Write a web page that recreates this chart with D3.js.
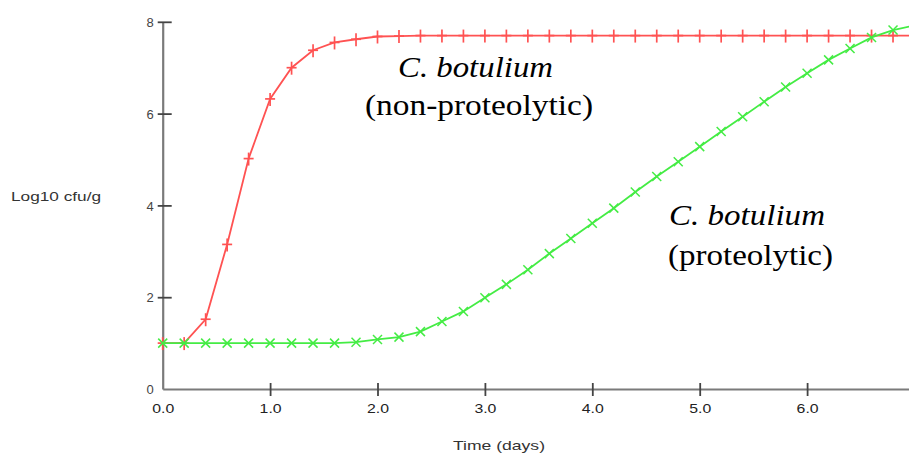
<!DOCTYPE html>
<html>
<head>
<meta charset="utf-8">
<script src="https://cdn.jsdelivr.net/npm/d3@7"></script>
<style>
  html, body { margin: 0; padding: 0; background: #fff; }
  svg { display: block; }
</style>
</head>
<body>
<svg id="chart" width="909" height="454"></svg>
<script>
// ---- data ----
const days = [0.0, 0.2, 0.4, 0.6, 0.8, 1.0, 1.2, 1.4, 1.6, 1.8, 2.0, 2.2, 2.4, 2.6, 2.8, 3.0, 3.2, 3.4,
              3.6, 3.8, 4.0, 4.2, 4.4, 4.6, 4.8, 5.0, 5.2, 5.4, 5.6, 5.8, 6.0, 6.2, 6.4, 6.6, 6.8, 7.0];
const nonProteolytic = [1.0, 1.0, 1.52, 3.15, 5.02, 6.32, 7.0, 7.38, 7.55, 7.62, 7.68, 7.69, 7.7, 7.7, 7.7, 7.7, 7.7, 7.7,
                        7.7, 7.7, 7.7, 7.7, 7.7, 7.7, 7.7, 7.7, 7.7, 7.7, 7.7, 7.7, 7.7, 7.7, 7.7, 7.7, 7.7, 7.7];
const proteolytic = [1.0, 1.0, 1.0, 1.0, 1.0, 1.0, 1.0, 1.0, 1.0, 1.02, 1.08, 1.13, 1.25, 1.47, 1.69, 1.99, 2.28, 2.6,
                     2.95, 3.28, 3.61, 3.94, 4.29, 4.63, 4.95, 5.28, 5.61, 5.93, 6.26, 6.58, 6.88, 7.17, 7.42, 7.66, 7.82, 7.92];
const xTicks = [0, 1, 2, 3, 4, 5, 6];
const yTicks = [0, 2, 4, 6, 8];
const xLabel = "Time (days)";
const yLabel = "Log10 cfu/g";
const labelNonProt = ["C. botulium", "(non-proteolytic)"];
const labelProt = ["C. botulium", "(proteolytic)"];

// ---- layout ----
const svg = d3.select("#chart");
const x0 = 162.7, pxPerDay = 107.4;
const x = d3.scaleLinear().domain([0, 7]).range([x0, x0 + 7 * pxPerDay]);
const y = d3.scaleLinear().domain([0, 8]).range([389, 21.8]);

const axisColor = "#7a7a7a";
const sans = "'Liberation Sans', Arial, sans-serif";
const serif = "'Liberation Serif', 'Times New Roman', serif";

// x axis
const gx = svg.append("g").attr("transform", `translate(0,${y(0)})`)
  .call(d3.axisBottom(x).tickValues(xTicks).tickFormat(d3.format(".1f")).tickSizeOuter(0).tickSize(0));
gx.select(".domain").attr("stroke", axisColor).attr("stroke-width", 2.2);
gx.selectAll(".tick").filter(d => d !== 0).append("line")
  .attr("y1", -6).attr("y2", 7).attr("stroke", "#444").attr("stroke-width", 1.8);
gx.selectAll(".tick text")
  .attr("y", 24).attr("dy", 0)
  .attr("fill", "#222").attr("font-size", 13.5).attr("font-family", sans)
  .attr("textLength", 22).attr("lengthAdjust", "spacingAndGlyphs");

// y axis
const gy = svg.append("g").attr("transform", `translate(${x0},0)`)
  .call(d3.axisLeft(y).tickValues(yTicks).tickFormat(d3.format("d")).tickSizeOuter(0).tickSize(0));
gy.select(".domain").attr("stroke", axisColor).attr("stroke-width", 2.2);
gy.selectAll(".tick").filter(d => d !== 0).append("line")
  .attr("x1", -5).attr("x2", 9).attr("stroke", "#444").attr("stroke-width", 1.8);
gy.selectAll(".tick text")
  .attr("x", -9).attr("dy", "0.36em")
  .attr("fill", "#444").attr("font-size", 13).attr("font-family", sans);

// axis titles
svg.append("text").text(yLabel)
  .attr("x", 11).attr("y", 201)
  .attr("font-family", sans).attr("font-size", 13).attr("fill", "#333")
  .attr("textLength", 90).attr("lengthAdjust", "spacingAndGlyphs");
svg.append("text").text(xLabel)
  .attr("x", 453).attr("y", 450)
  .attr("font-family", sans).attr("font-size", 13).attr("fill", "#333")
  .attr("textLength", 92).attr("lengthAdjust", "spacingAndGlyphs");

// series
const line = d3.line().x(d => x(d[0])).y(d => y(d[1]));
const redData = days.map((d, i) => [d, nonProteolytic[i]]);
const greenData = days.map((d, i) => [d, proteolytic[i]]);
const red = "#ff5252", green = "#44ec44";

svg.append("path").datum(redData).attr("d", line)
  .attr("fill", "none").attr("stroke", red).attr("stroke-width", 1.8);
const rm = svg.append("g").selectAll("g").data(redData).join("g")
  .attr("transform", d => `translate(${x(d[0])},${y(d[1])})`);
rm.append("line").attr("x1", 0).attr("x2", 0).attr("y1", -6).attr("y2", 7)
  .attr("stroke", red).attr("stroke-width", 1.7);
rm.append("line").attr("x1", -5).attr("x2", 5).attr("y1", 0).attr("y2", 0)
  .attr("stroke", red).attr("stroke-width", 1.7);

svg.append("path").datum(greenData).attr("d", line)
  .attr("fill", "none").attr("stroke", green).attr("stroke-width", 1.8);
const gm = svg.append("g").selectAll("g").data(greenData).join("g")
  .attr("transform", d => `translate(${x(d[0])},${y(d[1])})`);
gm.append("line").attr("x1", -4.5).attr("x2", 4.5).attr("y1", -4.5).attr("y2", 4.5)
  .attr("stroke", green).attr("stroke-width", 1.5);
gm.append("line").attr("x1", -4.5).attr("x2", 4.5).attr("y1", 4.5).attr("y2", -4.5)
  .attr("stroke", green).attr("stroke-width", 1.5);

// annotations
function annot(lines, x1, y1, w1, x2, y2, w2) {
  svg.append("text").text(lines[0]).attr("x", x1).attr("y", y1)
    .attr("font-family", serif).attr("font-style", "italic").attr("font-size", 29).attr("fill", "#000")
    .attr("textLength", w1).attr("lengthAdjust", "spacingAndGlyphs");
  svg.append("text").text(lines[1]).attr("x", x2).attr("y", y2)
    .attr("font-family", serif).attr("font-size", 29).attr("fill", "#000")
    .attr("textLength", w2).attr("lengthAdjust", "spacingAndGlyphs");
}
annot(labelNonProt, 398, 77, 155, 365, 115, 228);
annot(labelProt, 669, 225, 156, 668, 265, 165);
</script>
</body>
</html>
